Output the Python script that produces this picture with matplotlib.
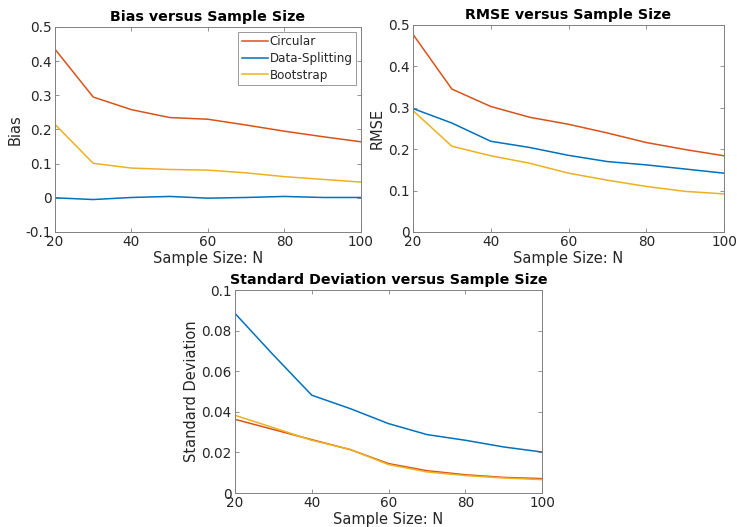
import matplotlib.pyplot as plt
import numpy as np

n = [20, 30, 40, 50, 60, 70, 80, 90, 100]

bias_circ = [0.435, 0.295, 0.258, 0.235, 0.230, 0.213, 0.195, 0.179, 0.164]
bias_split = [0.0, -0.005, 0.001, 0.004, -0.001, 0.001, 0.004, 0.001, 0.001]
bias_boot = [0.215, 0.101, 0.087, 0.083, 0.081, 0.073, 0.062, 0.054, 0.046]

rmse_circ = [0.477, 0.345, 0.303, 0.277, 0.260, 0.239, 0.216, 0.199, 0.184]
rmse_split = [0.298, 0.263, 0.219, 0.204, 0.185, 0.170, 0.162, 0.152, 0.142]
rmse_boot = [0.293, 0.207, 0.184, 0.166, 0.142, 0.125, 0.110, 0.098, 0.092]

sd_circ = [0.0363, 0.0313, 0.0263, 0.0214, 0.0145, 0.0110, 0.0090, 0.0077, 0.0071]
sd_split = [0.0885, 0.068, 0.0482, 0.0416, 0.0342, 0.0288, 0.0260, 0.0227, 0.0202]
sd_boot = [0.0383, 0.0322, 0.0260, 0.0215, 0.0140, 0.0104, 0.0086, 0.0074, 0.0066]

labels = ["Circular", "Data-Splitting", "Bootstrap"]
colors = ["#D95319", "#0072BD", "#EDB120"]

plt.rcParams["font.family"] = "DejaVu Sans"
txt = "#262626"

fig = plt.figure(figsize=(7.37, 5.27), dpi=100)


def style(ax, title, ylabel, ylim, yticks):
    ax.set_xlim(20, 100)
    ax.set_ylim(*ylim)
    ax.set_xticks(np.arange(20, 101, 20))
    ax.set_yticks(yticks)
    ax.set_yticklabels([f"{t:g}" for t in yticks])
    ax.tick_params(direction="in", length=3, width=0.6, top=True, right=True,
                   labelsize=9.8, colors="#808080", labelcolor=txt, pad=2.5)
    for s in ax.spines.values():
        s.set_color("#808080")
        s.set_linewidth(0.7)
    ax.set_title(title, fontsize=10.3, fontweight="bold", pad=4.5)
    ax.set_xlabel("Sample Size: N", fontsize=10.5, color=txt, labelpad=1)
    ax.set_ylabel(ylabel, fontsize=10.5, color=txt, labelpad=2)


# Bias
ax1 = fig.add_axes([0.0746, 0.5598, 0.415, 0.389])
for y, c, lab in zip([bias_circ, bias_split, bias_boot], colors, labels):
    ax1.plot(n, y, color=c, lw=1.1, label=lab)
style(ax1, "Bias versus Sample Size", "Bias", (-0.1, 0.5),
      [-0.1, 0, 0.1, 0.2, 0.3, 0.4, 0.5])
leg = ax1.legend(loc="upper right", fontsize=8.6, handlelength=2.2,
                 handletextpad=0.1, borderpad=0.3, labelspacing=0.3,
                 fancybox=False, borderaxespad=0.4)
leg.get_frame().set_edgecolor("#808080")
leg.get_frame().set_linewidth(0.7)
for t in leg.get_texts():
    t.set_color(txt)

# RMSE
ax2 = fig.add_axes([0.5604, 0.5598, 0.422, 0.393])
for y, c in zip([rmse_circ, rmse_split, rmse_boot], colors):
    ax2.plot(n, y, color=c, lw=1.1)
style(ax2, "RMSE versus Sample Size", "RMSE", (0, 0.5),
      [0, 0.1, 0.2, 0.3, 0.4, 0.5])

# Standard deviation
ax3 = fig.add_axes([0.3189, 0.0645, 0.4166, 0.385])
for y, c in zip([sd_split, sd_circ, sd_boot], [colors[1], colors[0], colors[2]]):
    ax3.plot(n, y, color=c, lw=1.1)
style(ax3, "Standard Deviation versus Sample Size", "Standard Deviation",
      (0, 0.1), [0, 0.02, 0.04, 0.06, 0.08, 0.1])

fig.savefig("out.png", dpi=100)
